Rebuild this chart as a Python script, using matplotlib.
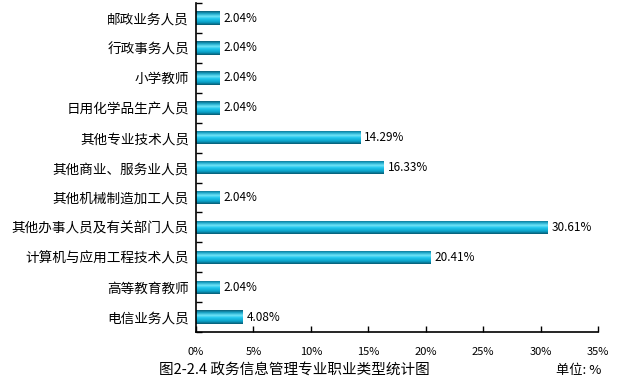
import numpy as np
import matplotlib.pyplot as plt
from matplotlib.colors import LinearSegmentedColormap

plt.rcParams['font.family'] = ['Noto Sans CJK SC', 'DejaVu Sans']

categories = ['邮政业务人员', '行政事务人员', '小学教师', '日用化学品生产人员',
              '其他专业技术人员', '其他商业、服务业人员', '其他机械制造加工人员',
              '其他办事人员及有关部门人员', '计算机与应用工程技术人员',
              '高等教育教师', '电信业务人员']
values = [2.04, 2.04, 2.04, 2.04, 14.29, 16.33, 2.04, 30.61, 20.41, 2.04, 4.08]
xticks = [0, 5, 10, 15, 20, 25, 30, 35]

fig = plt.figure(figsize=(6.18, 3.84), dpi=100)
ax = fig.add_axes([0.317, 0.135, 0.651, 0.857])

n = len(categories)
ypos = np.arange(n)[::-1]
bar_h = 0.45

# cylinder-like shading, top to bottom
cmap = LinearSegmentedColormap.from_list('cyl', [
    (0.0, '#0a5f78'), (0.18, '#1ba6c9'), (0.38, '#6fe3f7'),
    (0.55, '#22c8ee'), (0.8, '#0aa2c8'), (1.0, '#075a72')])
grad = np.linspace(0, 1, 64).reshape(-1, 1)

bars = ax.barh(ypos, values, height=bar_h, color='none', edgecolor='none')
for b, v, y in zip(bars, values, ypos):
    im = ax.imshow(grad, cmap=cmap, aspect='auto',
                   extent=[0, v, y - bar_h / 2, y + bar_h / 2],
                   origin='upper', zorder=2)
    im.set_clip_path(b)
    ax.text(v + 0.35, y, '%.2f%%' % v, va='center', ha='left', fontsize=8.5)

ax.set_xlim(0, 35)
ax.set_ylim(-0.5, n - 0.5)
ax.set_xticks(xticks)
ax.set_xticklabels(['%d%%' % t for t in xticks], fontsize=8)
ax.set_yticks(ypos)
ax.set_yticklabels(categories, fontsize=9.8)
ax.set_yticks(np.arange(n + 1) - 0.5, minor=True)
ax.tick_params(axis='y', which='major', length=0, pad=5)
ax.tick_params(axis='y', which='minor', direction='in', length=4, width=1)
ax.tick_params(axis='x', direction='in', length=4, width=1, pad=11)
ax.spines[['top', 'right']].set_visible(False)
ax.spines[['left', 'bottom']].set_linewidth(1.2)

fig.text(0.257, 0.035, '图2-2.4 政务信息管理专业职业类型统计图', fontsize=10.5, va='center')
fig.text(0.900, 0.035, '单位: %', fontsize=9.5, va='center', ha='left')

fig.savefig('out.png', dpi=100)
